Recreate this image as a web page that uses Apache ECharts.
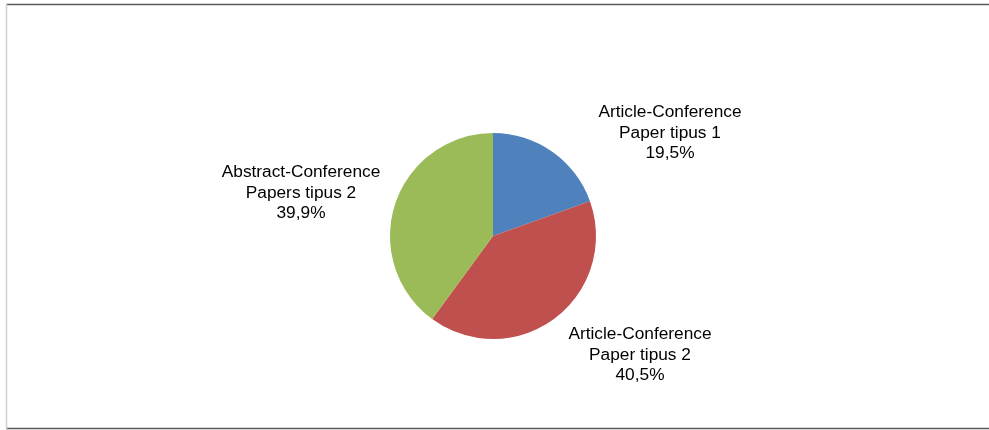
<!DOCTYPE html>
<html>
<head>
<meta charset="utf-8">
<script src="https://cdn.jsdelivr.net/npm/echarts@6/dist/echarts.min.js"></script>
<style>html,body{margin:0;padding:0;background:#fff}#c{width:989px;height:430px}</style>
</head>
<body>
<div id="c"></div>
<script>
const categories = ["Article-Conference\nPaper tipus 1", "Article-Conference\nPaper tipus 2", "Abstract-Conference\nPapers tipus 2"];
const values = [19.5, 40.5, 39.9];
const colors = ["#4F81BD", "#C0504D", "#9BBB59"];

const chart = echarts.init(document.getElementById('c'), null, {renderer: 'canvas'});
const labelPos = [[670, 133], [640, 355], [301, 193]];
chart.setOption({
  animation: false,
  graphic: [
    {type: 'line', shape: {x1: 6, y1: 4.5, x2: 989, y2: 4.5}, style: {stroke: '#5a5a5a', lineWidth: 1.5}},
    {type: 'line', shape: {x1: 6, y1: 428.5, x2: 989, y2: 428.5}, style: {stroke: '#5a5a5a', lineWidth: 1.5}},
    {type: 'line', shape: {x1: 6.5, y1: 4, x2: 6.5, y2: 429}, style: {stroke: '#d0d0d0', lineWidth: 1.5}}
  ],
  series: [{
    type: 'pie',
    center: [493, 236],
    radius: 103,
    startAngle: 90,
    clockwise: true,
    itemStyle: {borderWidth: 0},
    emphasis: {disabled: true},
    labelLine: {show: false},
    label: {
      show: true,
      position: 'outside',
      color: '#000',
      fontFamily: 'Liberation Sans, Arial, sans-serif',
      fontSize: 17.3,
      lineHeight: 20.5,
      align: 'center',
      formatter: p => p.name + '\n' + p.value.toFixed(1).replace('.', ',') + '%'
    },
    labelLayout: p => ({x: labelPos[p.dataIndex][0], y: labelPos[p.dataIndex][1], align: 'center', verticalAlign: 'middle'}),
    data: categories.map((n, i) => ({name: n, value: values[i], itemStyle: {color: colors[i]}}))
  }]
});
</script>
</body>
</html>
